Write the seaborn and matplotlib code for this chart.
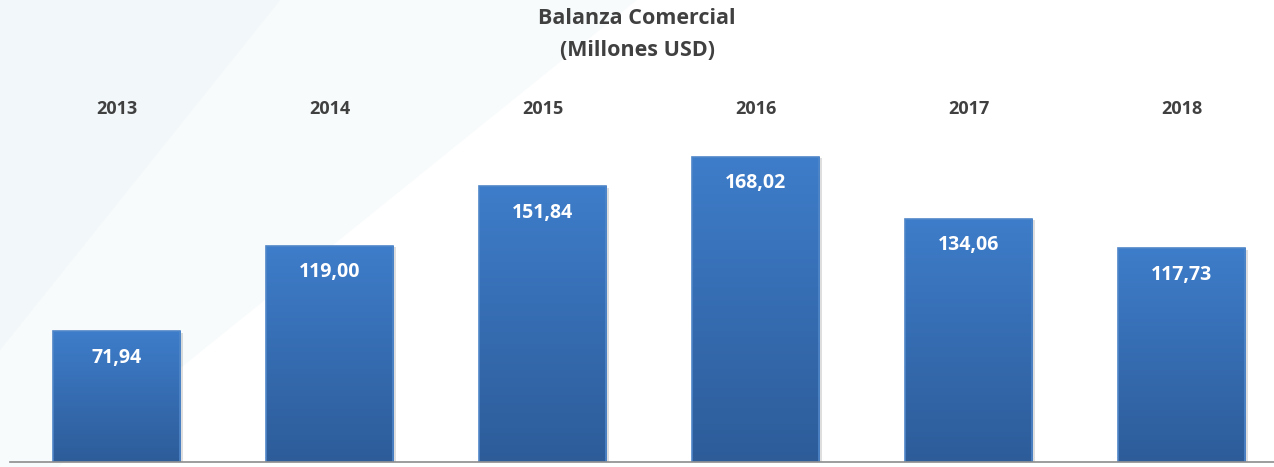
import numpy as np
import pandas as pd
import matplotlib
matplotlib.use("Agg")
import matplotlib.pyplot as plt
import seaborn as sns
from matplotlib.patches import Polygon
from matplotlib.colors import LinearSegmentedColormap

years = ["2013", "2014", "2015", "2016", "2017", "2018"]
values = [71.94, 119.00, 151.84, 168.02, 134.06, 117.73]
labels = ["71,94", "119,00", "151,84", "168,02", "134,06", "117,73"]

sns.set_style("white")
plt.rcParams['font.family'] = ['Open Sans', 'DejaVu Sans']

W, H = 1274, 467
fig = plt.figure(figsize=(W / 100, H / 100), dpi=100)
fig.patch.set_facecolor("white")

# faint background shapes at top-left
bg1 = Polygon([(0, 1), (0.50, 1), (0, -0.1)], closed=True, transform=fig.transFigure,
              facecolor="#f8fbfc", edgecolor="none", zorder=-2)
bg2 = Polygon([(0, 1), (0.22, 1), (0, 0.25)], closed=True, transform=fig.transFigure,
              facecolor="#f2f7f9", edgecolor="none", zorder=-1)
fig.patches.extend([bg1, bg2])

ax = fig.add_axes([10 / W, 5 / H, 1278 / W, 458 / H])
ax.set_facecolor("none")
ax.patch.set_visible(False)
df = pd.DataFrame({"year": years, "value": values})
sns.barplot(data=df, x="year", y="value", ax=ax, color="#3a73bd", width=0.6,
            edgecolor="#4f86c8", linewidth=1.2, saturation=1)

ax.set_xlim(-0.5, 5.5)
ax.set_ylim(0, 458 / 1.815)

grad = np.linspace(0, 1, 256).reshape(-1, 1)
cmap = LinearSegmentedColormap.from_list("g", ["#2d5c99", "#3e7dca"])
for p in list(ax.patches):
    x0, y0 = p.get_x(), p.get_y()
    w, h = p.get_width(), p.get_height()
    sh = plt.Rectangle((x0 + 0.014, y0), w, h - 0.8, facecolor="#000000", alpha=0.13,
                       edgecolor="none", zorder=1.5)
    ax.add_patch(sh)
    im = ax.imshow(grad, extent=(x0, x0 + w, y0, y0 + h), origin="lower", cmap=cmap,
                   aspect="auto", zorder=2)
    im.set_clip_path(p)
    p.set_zorder(2.5)
    p.set_facecolor("none")

for i, (v, lab) in enumerate(zip(values, labels)):
    ax.annotate(lab, (i, v), xytext=(0, -19), textcoords="offset points",
                ha="center", va="center", color="white", fontsize=14,
                fontweight="bold", zorder=5)
    ax.text(i, (462 - 109) / 1.815, years[i], ha="center", va="center",
            color="#404040", fontsize=13, fontweight="bold")

ax.set_xlabel("")
ax.set_ylabel("")
ax.set_yticks([])
ax.set_xticks([])
ax.set_xticks(np.arange(-0.5, 6.0, 1.0), minor=True)
ax.tick_params(axis="x", which="minor", direction="out", length=4, color="#888888", width=1)
for s in ["top", "left", "right"]:
    ax.spines[s].set_visible(False)
ax.spines["bottom"].set_color("#8c8c8c")
ax.spines["bottom"].set_linewidth(1.2)

fig.text(0.5, 1 - 19 / H, "Balanza Comercial", ha="center", va="center",
         fontsize=15.5, fontweight="bold", color="#404040")
fig.text(0.5, 1 - 51 / H, "(Millones USD)", ha="center", va="center",
         fontsize=15.5, fontweight="bold", color="#404040")

fig.savefig("out.png", dpi=100)
